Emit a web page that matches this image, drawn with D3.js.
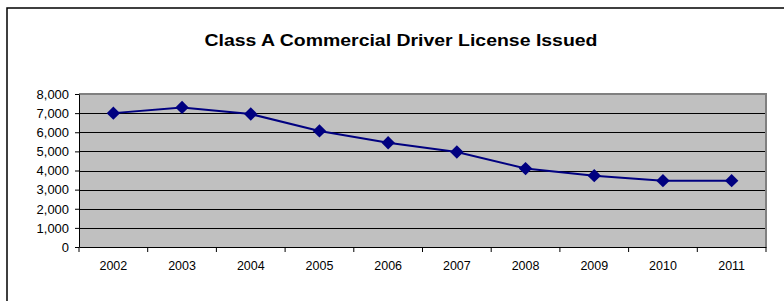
<!DOCTYPE html>
<html><head><meta charset="utf-8">
<script src="https://cdn.jsdelivr.net/npm/d3@7"></script>
<style>body{margin:0;background:#fff}svg{display:block}</style>
</head><body>
<script>
const years = ["2002","2003","2004","2005","2006","2007","2008","2009","2010","2011"];
const licenses = [7000, 7300, 6950, 6070, 5450, 4970, 4100, 3730, 3470, 3470];
const yTicks = [0,1000,2000,3000,4000,5000,6000,7000,8000];
const title = "Class A Commercial Driver License Issued";

const W = 784, H = 301;
const FONT = "Arial, 'Liberation Sans', sans-serif";
const svg = d3.select("body").append("svg").attr("width", W).attr("height", H);
svg.append("rect").attr("x",7).attr("y",8).attr("width",W).attr("height",H)
  .attr("fill","#fff").attr("stroke","#000").attr("stroke-width",1.5);

const L = 79, R = 766, T = 94, B = 247;
const x = d3.scaleBand().domain(years).range([L, R]);
const y = d3.scaleLinear().domain([0, 8000]).range([B, T]);

svg.append("rect").attr("x",L).attr("y",T).attr("width",R-L).attr("height",B-T).attr("fill","#C0C0C0");

svg.append("g").selectAll("line").data(yTicks.filter(d=>d>0 && d<8000)).join("line")
  .attr("x1",L).attr("x2",R).attr("y1",d=>Math.round(y(d))+0.5).attr("y2",d=>Math.round(y(d))+0.5)
  .attr("stroke","#000").attr("stroke-width",1);

svg.append("path").attr("d",`M${L},${T}H${R}V${B}`).attr("fill","none").attr("stroke","#808080").attr("stroke-width",2);

const yAxis = svg.append("g").attr("transform",`translate(${L},0)`)
  .call(d3.axisLeft(y).tickValues(yTicks).tickSize(4).tickSizeOuter(0).tickFormat(d3.format(",")));
const xAxis = svg.append("g").attr("transform",`translate(0,${B})`)
  .call(d3.axisBottom(x).tickSize(0).tickSizeOuter(0));
svg.append("g").selectAll("line").data(years.map(d=>x(d)).concat([R])).join("line")
  .attr("x1",d=>d).attr("x2",d=>d).attr("y1",B).attr("y2",B+5).attr("stroke","#000");

[yAxis, xAxis].forEach(g=>{
  g.selectAll("text").attr("font-family",FONT).attr("font-size",12).attr("fill","#000");
  g.select(".domain").attr("stroke","#000");
  g.selectAll(".tick line").attr("stroke","#000");
});
yAxis.selectAll("text").attr("x",-10).attr("dy","0.36em");
xAxis.selectAll("text").attr("y",23).attr("dy",0);
function stretch(sel, f){
  sel.each(function(){ const n=this; const len=n.getComputedTextLength();
    d3.select(n).attr("textLength",len*f).attr("lengthAdjust","spacingAndGlyphs"); });
}
stretch(yAxis.selectAll("text"), 1.08);
stretch(xAxis.selectAll("text"), 1.04);

const line = d3.line().x((d,i)=>x(years[i])+x.bandwidth()/2).y(d=>y(d));
svg.append("path").datum(licenses).attr("d",line).attr("fill","none").attr("stroke","#000080").attr("stroke-width",2);
svg.append("g").selectAll("path").data(licenses).join("path")
  .attr("d",d3.symbol(d3.symbolSquare, 90))
  .attr("transform",(d,i)=>`translate(${x(years[i])+x.bandwidth()/2},${y(d)}) rotate(45)`)
  .attr("fill","#000080");

const t = svg.append("text").attr("x",401).attr("y",46).attr("text-anchor","middle")
  .attr("font-family",FONT).attr("font-weight","bold").attr("font-size",17)
  .text(title);
t.attr("textLength",393).attr("lengthAdjust","spacingAndGlyphs");
</script>
</body></html>
